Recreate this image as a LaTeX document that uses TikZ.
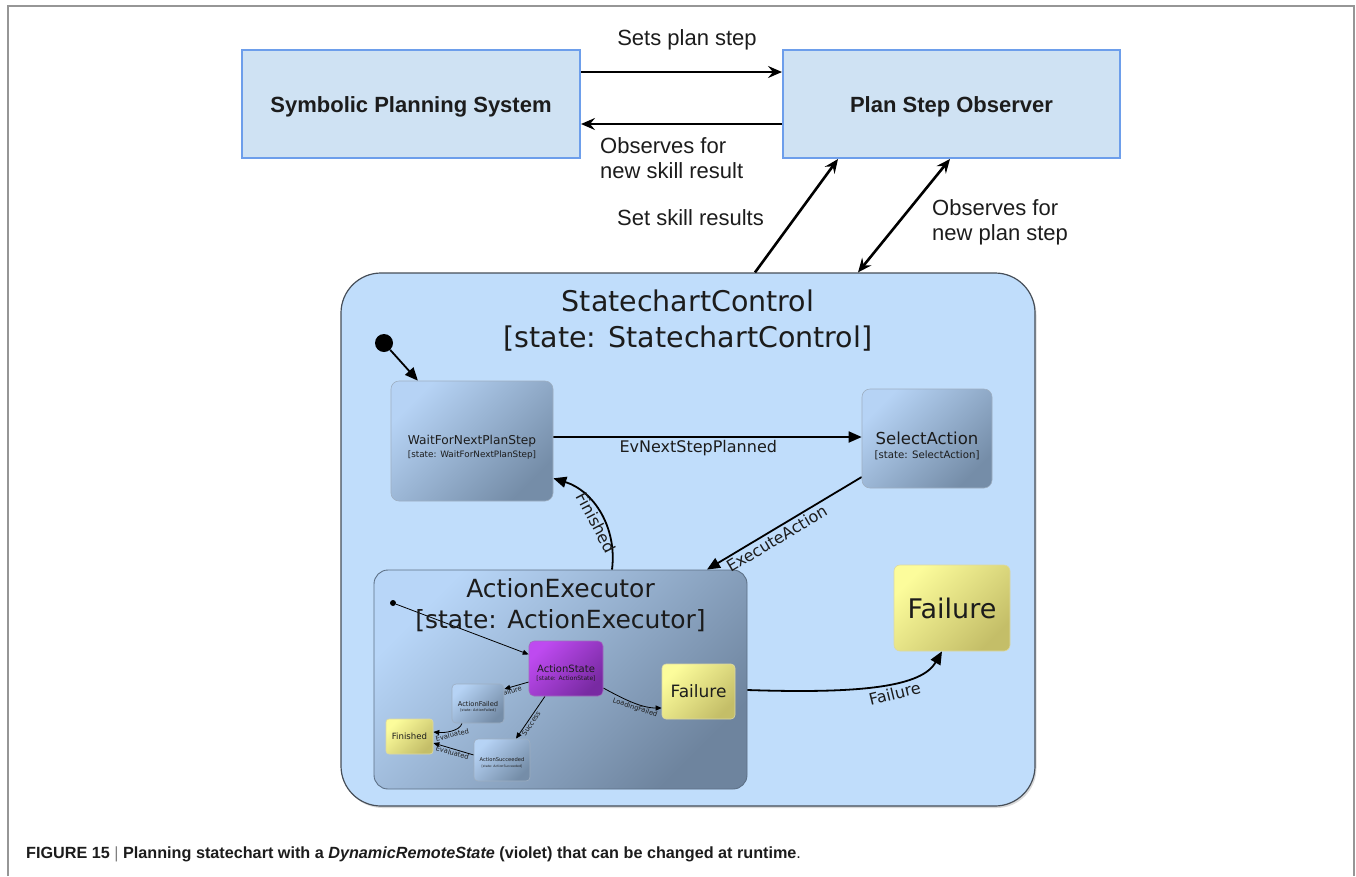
\documentclass[tikz,border=0pt]{standalone}
\usepackage{fontspec}
\setmainfont{Liberation Sans}
\newfontfamily\chartfont{DejaVu Sans}
\usetikzlibrary{arrows.meta,shadows}
\pgfdeclarelayer{back}
\pgfdeclarelayer{wires}
\pgfsetlayers{back,wires,main}
\newcommand{\fsz}[1]{\fontsize{#1}{#1}\selectfont}
\newcommand{\lowered}[1]{\raisebox{-3pt}[\height][\depth]{#1}}

\definecolor{planfill}{RGB}{207,226,243}
\definecolor{planedge}{RGB}{109,158,235}
\definecolor{chartfill}{RGB}{192,221,251}
\definecolor{chartedge}{RGB}{70,78,88}
\definecolor{stlight}{RGB}{182,211,245}
\definecolor{stdark}{RGB}{117,141,168}
\definecolor{aelight}{RGB}{184,214,248}
\definecolor{aedark}{RGB}{110,132,158}
\definecolor{ylight}{RGB}{252,252,155}
\definecolor{ydark}{RGB}{196,190,104}
\definecolor{vlight}{RGB}{190,74,240}
\definecolor{vdark}{RGB}{120,42,162}
\definecolor{ink}{RGB}{28,28,28}
\definecolor{framegray}{RGB}{150,150,150}

\tikzset{
  planbox/.style={draw=planedge, line width=2pt, fill=planfill,
    minimum width=338pt, minimum height=108pt, inner sep=0pt,
    font=\bfseries\fsz{22}, text=ink},
  toplabel/.style={font=\fsz{22}, text=ink, inner sep=0pt, align=left},
  flow/.style={line width=2.6pt, -{Stealth[length=14pt,width=12pt,inset=5pt]}},
  flowboth/.style={line width=2.6pt,
    {Stealth[length=14pt,width=12pt,inset=5pt]}-{Stealth[length=14pt,width=12pt,inset=5pt]}},
  statebox/.style={rounded corners=8pt, draw=stdark!70, line width=0.6pt,
    top color=stlight, bottom color=stdark, shading angle=45, inner sep=0pt},
  finalbox/.style={rounded corners=6pt, draw=ydark!60, line width=0.6pt,
    top color=ylight, bottom color=ydark, shading angle=45, inner sep=0pt,
    text=ink},
  violetbox/.style={rounded corners=5pt, draw=vdark!70, line width=0.6pt,
    top color=vlight, bottom color=vdark, shading angle=45, inner sep=0pt},
  stname/.style={text=ink, inner sep=0pt},
  chartedge/.style={line width=1.8pt, -{Triangle[length=13pt,width=11pt]}},
  smalledge/.style={line width=0.8pt, -{Triangle[length=6pt,width=5pt]}},
  edgelabel/.style={font=\chartfont\fsz{16}, text=ink, sloped, inner sep=2pt},
  smalllabel/.style={font=\chartfont\fsz{6.8}, text=ink, sloped, inner sep=1pt},
}

\begin{document}
\begin{tikzpicture}[x=1pt, y=-1pt]
\useasboundingbox (0,0) rectangle (1356,876);

% page frame
\draw[framegray, line width=1.2pt] (8,876) -- (8,6) -- (1354,6) -- (1354,876);

% planning layer
\node[planbox] (sps) at (411,104) {\lowered{Symbolic Planning System}};
\node[planbox, minimum width=337pt] (pso) at (951.5,104) {\lowered{Plan Step Observer}};

% statechart containers
\begin{pgfonlayer}{back}
  \node[rounded corners=40pt, fill=chartfill, draw=chartedge, line width=1.2pt,
        minimum width=694pt, minimum height=533pt, inner sep=0pt,
        drop shadow={shadow xshift=1.5pt, shadow yshift=-2pt, opacity=0.3}]
        (chart) at (688,539.5) {};
  \node[rounded corners=14pt, draw=aedark!85!black, line width=0.9pt,
        top color=aelight, bottom color=aedark, shading angle=45,
        minimum width=373pt, minimum height=219pt, inner sep=0pt]
        (ae) at (560.5,679.5) {};
\end{pgfonlayer}

\node[stname, font=\chartfont\fsz{28.5}, anchor=base] (charttitle) at (688,311) {StatechartControl};
\node[stname, font=\chartfont\fsz{28.5}, anchor=base] (chartsub) at (688,347) {[state: StatechartControl]};
\node[stname, font=\chartfont\fsz{25}, anchor=base] (aetitle) at (560.5,597) {ActionExecutor};
\node[stname, font=\chartfont\fsz{25}, anchor=base] (aesub) at (560.5,628) {[state: ActionExecutor]};

% initial pseudo states
\node[circle, fill=black, minimum size=18pt, inner sep=0pt] (init) at (384,343) {};
\node[circle, fill=black, minimum size=6pt, inner sep=0pt] (init2) at (393,603) {};

% top-level states
\node[statebox, minimum width=162pt, minimum height=120pt] (wait) at (472,441) {};
\node[stname, font=\chartfont\fsz{12.2}] (waitname) at (wait.center) {WaitForNextPlanStep};
\node[stname, font=\chartfont\fsz{8.8}] (waitsub) at ([yshift=-14pt]wait.center) {[state: WaitForNextPlanStep]};

\node[statebox, minimum width=130pt, minimum height=99pt] (sel) at (927,438.5) {};
\node[stname, font=\chartfont\fsz{16.5}] (selname) at (sel.center) {SelectAction};
\node[stname, font=\chartfont\fsz{10.2}] (selsub) at ([yshift=-17pt]sel.center) {[state: SelectAction]};

\node[finalbox, minimum width=116pt, minimum height=86pt, font=\chartfont\fsz{27}] (fail) at (952,608) {Failure};

% states inside ActionExecutor
\node[violetbox, minimum width=74pt, minimum height=55pt] (act) at (566,668.5) {};
\node[stname, font=\chartfont\fsz{10}] (actname) at (act.center) {ActionState};
\node[stname, font=\chartfont\fsz{6}] (actsub) at ([yshift=-10pt]act.center) {[state: ActionState]};

\node[finalbox, rounded corners=4pt, minimum width=73pt, minimum height=55pt, font=\chartfont\fsz{17}] (ifail) at (698.5,691.5) {Failure};

\node[statebox, rounded corners=4pt, minimum width=52pt, minimum height=39pt] (afail) at (478,703.5) {};
\node[stname, font=\chartfont\fsz{6.7}] (afailname) at (afail.center) {ActionFailed};
\node[stname, font=\chartfont\fsz{3.5}] (afailsub) at ([yshift=-7pt]afail.center) {[state: ActionFailed]};

\node[statebox, rounded corners=4pt, minimum width=56pt, minimum height=42pt] (asucc) at (502,760) {};
\node[stname, font=\chartfont\fsz{5.2}] (asuccname) at (asucc.center) {ActionSucceeded};
\node[stname, font=\chartfont\fsz{3.2}] (asuccsub) at ([yshift=-6pt]asucc.center) {[state: ActionSucceeded]};

\node[finalbox, rounded corners=3pt, minimum width=47pt, minimum height=35pt, font=\chartfont\fsz{8.6}] (fin) at (409.5,736.5) {Finished};

% planning connectors and their labels
\draw[flow] ([yshift=32pt]sps.east) -- ([yshift=32pt]pso.west);
\draw[flow] ([yshift=-20pt]pso.west) -- ([yshift=-20pt]sps.east);
\draw[flow] ([xshift=67pt]chart.north) -- ([xshift=-113.5pt]pso.south);
\draw[flowboth] ([xshift=170pt]chart.north) -- ([xshift=-1.5pt]pso.south);

\node[toplabel] (lsets) at (687,39.5) {Sets plan step};
\node[toplabel, anchor=west] (lobsres) at (600,158) {Observes for\\[3pt]new skill result};
\node[toplabel] (lskill) at (690.5,218) {Set skill results};
\node[toplabel, anchor=west] (lobsstep) at (932,222.5) {Observes for\\[3pt]new plan step};

% statechart transitions
\begin{pgfonlayer}{wires}
  \draw[chartedge] (init) -- (wait);
  \draw[chartedge] ([yshift=4pt]wait.east) -- ([yshift=1.5pt]sel.west)
    node[edgelabel, below, pos=0.47] {EvNextStepPlanned};
  \draw[chartedge] ([yshift=-38.5pt]sel.west) -- ([xshift=146.5pt]ae.north)
    node[edgelabel, below, pos=0.58] {ExecuteAction};
  \draw[chartedge] ([xshift=51.5pt]ae.north) to[bend right=40]
    node[edgelabel, below, inner sep=1pt, pos=0.44] {Finished} ([yshift=23pt]wait.south east);
  \draw[chartedge] ([yshift=-10.5pt]ae.east) .. controls (865,694) and (922,686) ..
    ([xshift=-10pt]fail.south) node[edgelabel, below, inner sep=4pt, pos=0.56] {Failure};

  \draw[smalledge] (init2) -- (act);
  \draw[smalledge] ([yshift=-13.5pt]act.west) -- ([yshift=14.5pt]afail.east)
    node[smalllabel, below, pos=0.78] {Failure};
  \draw[smalledge] ([xshift=-21pt]act.south) -- ([xshift=14pt]asucc.north)
    node[smalllabel, below, pos=0.59] {Success};
  \draw[smalledge] ([yshift=-19.5pt]act.east) .. controls (620,697) and (640,708) ..
    ([yshift=-16.5pt]ifail.west) node[smalllabel, below, pos=0.6] {LoadingFailed};
  \draw[smalledge] ([xshift=-16pt]afail.south) .. controls (460,731) and (445,733) ..
    ([yshift=4.5pt]fin.east) node[smalllabel, below, pos=0.5] {Evaluated};
  \draw[smalledge] ([yshift=5pt]asucc.west) -- ([yshift=-6.5pt]fin.east)
    node[smalllabel, below, pos=0.5] {Evaluated};
\end{pgfonlayer}

% caption
\node[anchor=base west, inner sep=0pt, font=\bfseries\fsz{16.2}, text=ink] (caption) at (26,858)
  {FIGURE 15 {\mdseries\color{gray}|} Planning statechart with a \textit{DynamicRemoteState} (violet) that can be changed at runtime{\mdseries.}};
\end{tikzpicture}
\end{document}
